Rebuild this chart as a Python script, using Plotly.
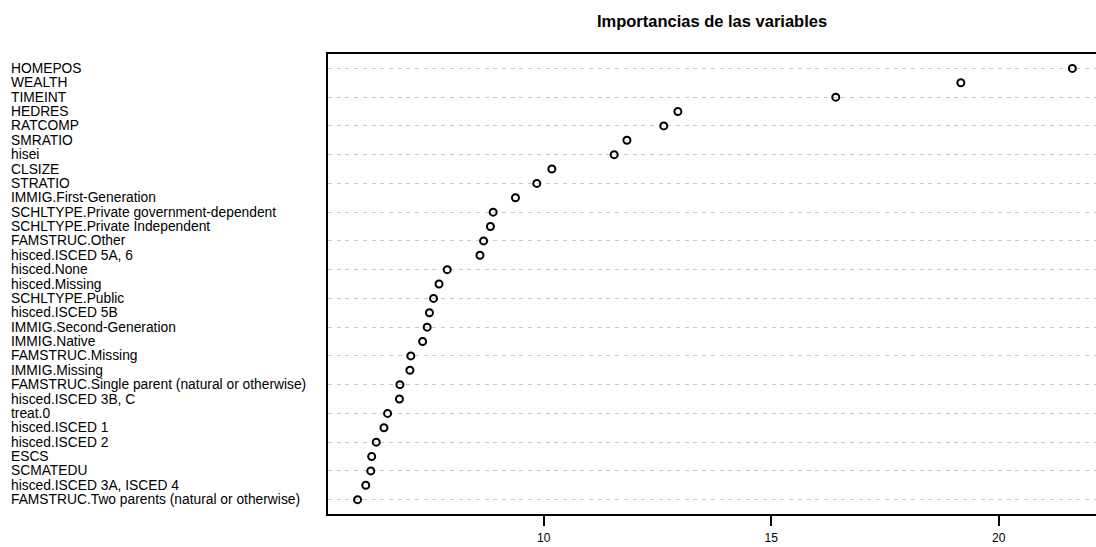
import plotly.graph_objects as go

labels = [
    "HOMEPOS", "WEALTH", "TIMEINT", "HEDRES", "RATCOMP", "SMRATIO", "hisei",
    "CLSIZE", "STRATIO", "IMMIG.First-Generation",
    "SCHLTYPE.Private government-dependent", "SCHLTYPE.Private Independent",
    "FAMSTRUC.Other", "hisced.ISCED 5A, 6", "hisced.None", "hisced.Missing",
    "SCHLTYPE.Public", "hisced.ISCED 5B", "IMMIG.Second-Generation",
    "IMMIG.Native", "FAMSTRUC.Missing", "IMMIG.Missing",
    "FAMSTRUC.Single parent (natural or otherwise)", "hisced.ISCED 3B, C",
    "treat.0", "hisced.ISCED 1", "hisced.ISCED 2", "ESCS", "SCMATEDU",
    "hisced.ISCED 3A, ISCED 4", "FAMSTRUC.Two parents (natural or otherwise)",
]
importance = [
    21.62, 19.17, 16.42, 12.95, 12.64, 11.83, 11.55,
    10.18, 9.85, 9.38,
    8.89, 8.83,
    8.68, 8.60, 7.88, 7.70,
    7.58, 7.49, 7.44,
    7.34, 7.08, 7.06,
    6.84, 6.83,
    6.57, 6.49, 6.32, 6.22, 6.20,
    6.09, 5.91,
]
tick_vals = [10, 15, 20]
title_text = "Importancias de las variables"

font_family = "Liberation Sans, Arial, Helvetica, sans-serif"

fig = go.Figure()
fig.add_trace(go.Scatter(
    x=importance, y=labels, mode="markers",
    marker=dict(symbol="circle-open", size=7, color="black",
                line=dict(width=2, color="black")),
    showlegend=False, hoverinfo="x+y",
))

plot_left = 328
plot_w = 1096 - plot_left
for lab in labels:
    fig.add_annotation(
        x=(9 - plot_left) / plot_w, xref="paper", y=lab, yref="y",
        text=lab, showarrow=False, xanchor="left", yanchor="middle",
        font=dict(size=13.8, color="black", family=font_family),
    )

fig.update_layout(
    width=1096, height=547,
    margin=dict(l=plot_left, r=0, t=54, b=33),
    paper_bgcolor="white", plot_bgcolor="white",
    font=dict(family=font_family, color="black"),
    title=dict(text="<b>" + title_text + "</b>", x=712 / 1096, xanchor="center",
               y=1 - 21 / 547, yanchor="middle",
               font=dict(size=16.5, color="black", family=font_family)),
)
fig.update_xaxes(
    range=[5.26, 22.14], tickvals=tick_vals, ticks="outside", ticklen=10,
    tickwidth=2, tickcolor="black", showline=True, linewidth=2,
    linecolor="black", mirror=True, showgrid=False, zeroline=False,
    tickfont=dict(size=12, color="black"), ticklabelstandoff=2,
    automargin=False,
)
fig.update_yaxes(
    type="category", categoryorder="array", categoryarray=labels[::-1],
    range=[-1, 31], showticklabels=False, ticks="",
    showline=True, linewidth=2, linecolor="black",
    showgrid=True, gridcolor="#C8C8C8", gridwidth=1.2, griddash="4px,4.7px",
    zeroline=False, automargin=False,
)

fig.write_html("out.html", config={"displayModeBar": False},
               post_script="document.body.style.margin='0';document.body.style.overflow='hidden';")
